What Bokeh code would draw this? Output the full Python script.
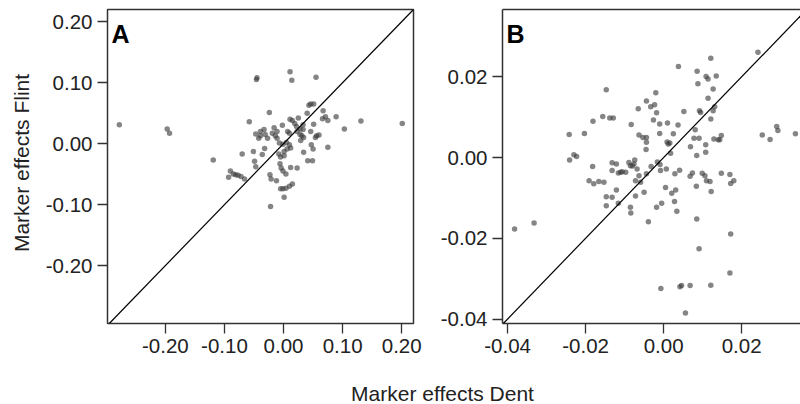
import numpy as np
from bokeh.plotting import figure
from bokeh.layouts import row, column
from bokeh.models import Range1d, FixedTicker, PrintfTickFormatter, Slope, Label, LinearAxis
from bokeh.core.properties import value
from bokeh.embed import file_html
from bokeh.resources import INLINE

# ---------------- data ----------------
dent_a = [-0.278, -0.197, -0.193, 0.201, 0.131, 0.103, 0.089, 0.075, -0.119, -0.045,
          -0.046, 0.011, 0.014, 0.055, -0.022, 0.001, -0.058, -0.024, 0.046, 0.051,
          0.043, 0.067, 0.071, 0.066, 0.075, 0.040, 0.011, 0.015, 0.019, 0.025,
          0.022, 0.033, 0.028, 0.031, 0.034, -0.033, -0.039, -0.042, -0.031, -0.027,
          -0.016, -0.011, -0.002, -0.019, -0.014, -0.011, -0.007, -0.001, 0.005, 0.010,
          0.012, 0.006, 0.001, -0.005, -0.006, -0.004, -0.001, 0.004, 0.001, -0.008,
          0.023, 0.007, 0.010, 0.046, 0.056, 0.060, 0.054, 0.047, 0.050, 0.034,
          0.041, 0.049, 0.023, 0.012, -0.051, -0.070, -0.049, -0.047, -0.036, -0.032,
          -0.090, -0.093, -0.085, -0.081, -0.077, -0.072, -0.066, -0.023, -0.021, -0.012,
          -0.005, -0.001, 0.004, 0.010, 0.015, 0.051, 0.033, 0.028, 0.029, -0.039, -0.047]
flint_a = [0.031, 0.024, 0.017, 0.033, 0.037, 0.024, 0.044, -0.006, -0.027, 0.108,
           0.105, 0.118, 0.104, 0.109, -0.103, -0.088, 0.036, 0.051, 0.065, 0.065,
           0.063, 0.054, 0.044, 0.041, 0.038, 0.050, 0.040, 0.038, 0.033, 0.042,
           0.028, 0.023, 0.015, 0.013, 0.010, 0.023, 0.020, 0.009, 0.015, 0.009,
           0.026, 0.020, 0.030, 0.017, 0.013, 0.009, 0.001, -0.001, 0.002, -0.002,
           -0.007, -0.009, -0.013, -0.022, -0.033, -0.040, -0.045, -0.050, -0.020, -0.017,
           0.020, 0.020, 0.017, 0.020, 0.013, 0.014, 0.010, -0.002, -0.009, -0.014,
           -0.028, -0.028, -0.040, -0.039, -0.013, -0.017, -0.029, -0.038, -0.018, -0.008,
           -0.045, -0.055, -0.050, -0.051, -0.052, -0.054, -0.058, -0.051, -0.058, -0.061,
           -0.074, -0.074, -0.073, -0.070, -0.066, 0.032, 0.031, 0.024, 0.005, 0.013, 0.016]

dent_b = [-0.0382, -0.0332, -0.0242, -0.0241, -0.0230, -0.0223, -0.0203, -0.0181, -0.0147, -0.0156,
          -0.0138, -0.0129, -0.0182, -0.0191, -0.0179, -0.0166, -0.0153, -0.0147, -0.0147, -0.0132,
          -0.0121, -0.0116, -0.0132, -0.0132, -0.0121, -0.0116, -0.0110, -0.0097, -0.0089, -0.0085,
          -0.0076, -0.0074, -0.0068, -0.0083, -0.0072, -0.0072, -0.0085, -0.0084, -0.0063, -0.0053,
          -0.0065, -0.0044, -0.0033, -0.0023, -0.0020, -0.0018, -0.0026, -0.0044, -0.0045, -0.0063,
          -0.0059, -0.0044, -0.0050, -0.0039, -0.0032, -0.0016, -0.0009, -0.0008, -0.0018, -0.0005,
          -0.0010, -0.0010, 0.0007, 0.0005, 0.0010, 0.0012, 0.0018, 0.0016, 0.0025, 0.0021,
          0.0031, 0.0029, 0.0028, 0.0034, 0.0038, 0.0037, 0.0041, 0.0052, 0.0069, 0.0068,
          0.0074, 0.0078, 0.0081, 0.0085, 0.0085, 0.0091, 0.0086, 0.0088, 0.0092, 0.0095,
          0.0091, 0.0099, 0.0106, 0.0108, 0.0108, 0.0109, 0.0114, 0.0110, 0.0119, 0.0114,
          0.0121, 0.0121, 0.0127, 0.0131, 0.0127, 0.0135, 0.0122, 0.0121, 0.0129, 0.0140,
          0.0148, 0.0148, 0.0144, 0.0170, 0.0172, 0.0180, 0.0172, 0.0170, 0.0068, 0.0046,
          0.0042, -0.0007, 0.0056, 0.0242, 0.0253, 0.0273, 0.0290, 0.0293, 0.0338, 0.0084,
          0.0009, -0.0044, -0.0080, -0.0106]
flint_b = [-0.0177, -0.0162, 0.0057, -0.0006, 0.0007, 0.0003, 0.0060, 0.0090, 0.0168, 0.0102,
           0.0098, 0.0098, -0.0022, -0.0057, -0.0065, -0.0059, -0.0061, -0.0097, -0.0119, -0.0098,
           -0.0080, -0.0113, -0.0013, -0.0032, -0.0016, -0.0038, -0.0036, -0.0036, -0.0012, -0.0020,
           -0.0016, -0.0006, -0.0028, 0.0082, -0.0057, -0.0095, -0.0123, -0.0137, 0.0056, 0.0050,
           0.0121, 0.0140, 0.0126, 0.0131, 0.0161, 0.0111, 0.0093, 0.0038, 0.0020, -0.0045,
           -0.0061, -0.0040, -0.0086, -0.0159, -0.0022, -0.0011, -0.0017, -0.0032, -0.0123, -0.0113,
           0.0060, 0.0083, -0.0028, -0.0074, 0.0086, 0.0034, 0.0011, 0.0036, 0.0059, -0.0088,
           -0.0080, -0.0040, -0.0109, -0.0133, 0.0226, 0.0081, -0.0031, 0.0114, 0.0027, -0.0046,
           -0.0038, 0.0048, 0.0069, 0.0005, -0.0152, 0.0048, 0.0214, 0.0183, 0.0116, 0.0112,
           -0.0226, -0.0039, -0.0045, 0.0032, 0.0013, 0.0201, 0.0195, -0.0057, -0.0059, 0.0147,
           0.0246, 0.0096, 0.0116, 0.0126, 0.0170, 0.0202, -0.0084, -0.0316, 0.0046, 0.0044,
           0.0055, -0.0039, 0.0044, -0.0042, -0.0064, -0.0057, -0.0189, -0.0286, -0.0317, -0.0317,
           -0.0320, -0.0324, -0.0385, 0.0261, 0.0056, 0.0045, 0.0077, 0.0067, 0.0059, -0.0071,
           0.0039, 0.0050, -0.0021, -0.0035]

ticks_a = [-0.20, -0.10, 0.00, 0.10, 0.20]
ticks_b = [-0.04, -0.02, 0.00, 0.02]
xlim_a = (-0.298, 0.220)
ylim_a = (-0.295, 0.220)
xlim_b = (-0.0413, 0.0351)
ylim_b = (-0.0411, 0.0367)

x_title = "Marker effects Dent"
y_title = "Marker effects Flint"

FONT = "Liberation Sans"
TXT = "#222222"
FRAME = "#333333"
FRAME_H = 314
ROW_H = 368


def panel(xs, ys, xlim, ylim, ticks, letter, fw, bl, br, boxed):
    p = figure(frame_width=fw, frame_height=FRAME_H, title=None,
               x_range=Range1d(*xlim), y_range=Range1d(*ylim),
               min_border_left=bl, min_border_right=br,
               min_border_top=9, min_border_bottom=ROW_H - 9 - FRAME_H,
               output_backend="svg", toolbar_location=None,
               background_fill_color="white", border_fill_color="white")
    p.grid.visible = False
    for ax in (p.xaxis[0], p.yaxis[0]):
        ax.ticker = FixedTicker(ticks=ticks)
        ax.formatter = PrintfTickFormatter(format="%.2f")
        ax.major_tick_out = 10
        ax.major_tick_in = 0
        ax.minor_tick_line_color = None
        ax.major_tick_line_color = FRAME
        ax.major_tick_line_width = 1.3
        ax.major_label_standoff = 5
        ax.major_label_text_font = FONT
        ax.major_label_text_font_size = "20.5px"
        ax.major_label_text_color = TXT
        if boxed:
            ax.axis_line_color = None
        else:
            ax.axis_line_color = FRAME
            ax.axis_line_width = 1.5
    if boxed:
        p.outline_line_color = FRAME
        p.outline_line_width = 1.5
    else:
        p.outline_line_color = None
        top = LinearAxis(ticker=FixedTicker(ticks=[]), axis_line_color=FRAME,
                         axis_line_width=1.5, major_tick_line_color=None,
                         minor_tick_line_color=None,
                         major_label_text_font_size="0px")
        p.add_layout(top, "above")
    p.add_layout(Slope(gradient=1, y_intercept=0, line_color="black", line_width=1.2))
    p.scatter(xs, ys, size=5.5, fill_color="#3a3a3a", fill_alpha=0.62, line_color=None)
    dx = (xlim[1] - xlim[0]) / fw
    dy = (ylim[1] - ylim[0]) / FRAME_H
    p.add_layout(Label(x=xlim[0] + 4 * dx, y=ylim[1] - 24 * dy, text=letter,
                       text_font=FONT, text_font_style="bold", text_font_size="25px",
                       text_color="black", text_align="left", text_baseline="alphabetic"))
    return p


pa = panel(dent_a, flint_a, xlim_a, ylim_a, ticks_a, "A", 306, 67, 17, True)
pb = panel(dent_b, flint_b, xlim_b, ylim_b, ticks_b, "B", 298, 72, 0, False)

# y-axis title strip
ylab = figure(frame_width=40, frame_height=ROW_H, x_range=Range1d(0, 40), y_range=Range1d(0, ROW_H),
              min_border=0, x_axis_type=None, y_axis_type=None, title=None,
              output_backend="svg", toolbar_location=None)
ylab.grid.visible = False
ylab.outline_line_color = None
ylab.text(x=[20.5], y=[ROW_H - 153.5], text=[y_title], angle=np.pi / 2,
          text_align="center", text_baseline="middle",
          text_font=value(FONT), text_font_size=value("21px"), text_color=TXT)

# x-axis title strip
XH = 404 - ROW_H
xlab = figure(frame_width=800, frame_height=XH, x_range=Range1d(0, 800), y_range=Range1d(0, XH),
              min_border=0, x_axis_type=None, y_axis_type=None, title=None,
              output_backend="svg", toolbar_location=None)
xlab.grid.visible = False
xlab.outline_line_color = None
xlab.text(x=[442], y=[404 - 392.5], text=[x_title],
          text_align="center", text_baseline="middle",
          text_font=value(FONT), text_font_size=value("21px"), text_color=TXT)

layout = column(row(ylab, pa, pb, spacing=0), xlab, spacing=0)

open("out.html", "w").write(file_html(layout, INLINE))
